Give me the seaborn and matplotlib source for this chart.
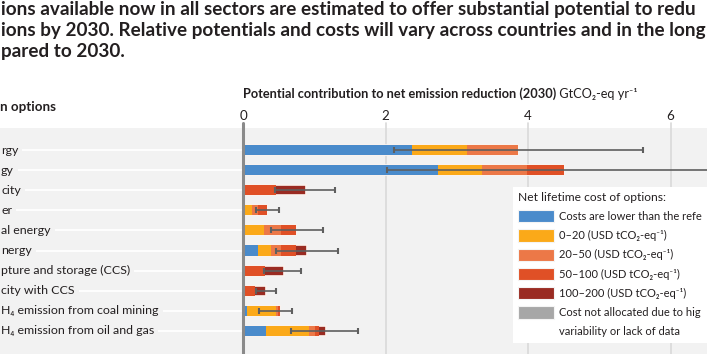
import numpy as np
import pandas as pd
import matplotlib
import matplotlib.pyplot as plt
import seaborn as sns
from matplotlib.patches import Patch

matplotlib.use('Agg')

# Data (GtCO2-eq/yr, 2030)
options = ['Wind energy', 'Solar energy', 'Bioelectricity', 'Hydropower',
           'Geothermal energy', 'Nuclear energy',
           'Carbon capture and storage (CCS)', 'Bioelectricity with CCS',
           'Reduce CH4 emission from coal mining',
           'Reduce CH4 emission from oil and gas']
# visible part of each row label (the picture is cropped on the left)
shown_labels = ['rgy', 'gy', 'city', 'er', 'al energy', 'nergy',
                'pture and storage (CCS)', 'city with CCS',
                'H\u2084 emission from coal mining',
                'H\u2084 emission from oil and gas']
cost_lower = [2.37, 2.74, 0, 0, 0, 0.21, 0, 0, 0.05, 0.32]
cost_0_20 = [0.77, 0.61, 0, 0.13, 0.29, 0.18, 0, 0, 0.42, 0.61]
cost_20_50 = [0.72, 0.63, 0, 0.08, 0.25, 0.15, 0, 0, 0.02, 0.08]
cost_50_100 = [0, 0.53, 0.47, 0.12, 0.21, 0.20, 0.31, 0.17, 0.03, 0.06]
cost_100_200 = [0, 0, 0.41, 0, 0, 0.16, 0.26, 0.15, 0, 0.10]
range_low = [2.12, 2.02, 0.45, 0.18, 0.39, 0.46, 0.29, 0.18, 0.23, 0.68]
range_high = [5.61, 7.0, 1.29, 0.50, 1.12, 1.34, 0.82, 0.46, 0.69, 1.62]

# legend text as far as it is visible in the cropped picture
legend_labels = ['Costs are lower than the refe',
                 '0\u201320 (USD tCO\u2082-eq\u207b\u00b9)',
                 '20\u201350 (USD tCO\u2082-eq\u207b\u00b9)',
                 '50\u2013100 (USD tCO\u2082-eq\u207b\u00b9)',
                 '100\u2013200 (USD tCO\u2082-eq\u207b\u00b9)',
                 'Cost not allocated due to hig',
                 'variability or lack of data']
colors = ['#4a8bcb', '#fba919', '#ec7847', '#e05026', '#9a2b22', '#a7a7a7']

title_lines = ['ions available now in all sectors are estimated to offer substantial potential to redu',
               'ions by 2030. Relative potentials and costs will vary across countries and in the long',
               'pared to 2030.']

df = pd.DataFrame({'option': options, 'c1': cost_lower, 'c2': cost_0_20,
                   'c3': cost_20_50, 'c4': cost_50_100, 'c5': cost_100_200})
seg_cols = ['c1', 'c2', 'c3', 'c4', 'c5']
cum = df[seg_cols].cumsum(axis=1)

sns.set_style('white')
plt.rcParams['font.family'] = ['Lato', 'DejaVu Sans']
txt = '#231f20'

W, H = 707, 354
x0_px, px_per_unit = 243, 71.25

fig = plt.figure(figsize=(W / 100, H / 100), dpi=100)
renderer = fig.canvas.get_renderer()


def fit_size(s, weight, target_px):
    # font size that gives the string the width it has in the reference
    t = fig.text(0, 0, s, fontsize=10, fontweight=weight)
    w = t.get_window_extent(renderer).width
    t.remove()
    return 10 * target_px / w


fs_title = min(fit_size(s, 'bold', 702) for s in title_lines[:2])
fs_label = fit_size(shown_labels[6], 'normal', 122) * 1.06
fs_head = fit_size('Potential contribution to net emission reduction (2030)', 'bold', 314)
fs_leg = fit_size(legend_labels[0], 'normal', 701 - 558)

ax = fig.add_axes([0, 0, 1, 226 / H])
ax.set_facecolor('#f2f2f2')

# stacked bars: draw cumulative totals from the last class down
for k in range(len(seg_cols) - 1, -1, -1):
    sns.barplot(x=cum[seg_cols[k]].values, y=df['option'], orient='h',
                color=colors[k], saturation=1, width=0.5, ax=ax,
                linewidth=1.2 if k == len(seg_cols) - 1 else 0,
                edgecolor='#fbf3ee', zorder=2)

rows = np.arange(len(options))
lo = np.array(range_low)
hi = np.array(range_high)
ax.errorbar((lo + hi) / 2, rows, xerr=(hi - lo) / 2, fmt='none',
            ecolor='#5f5f5f', elinewidth=1.2, capsize=2, capthick=1.5, zorder=4)

ax.set_xlim(-x0_px / px_per_unit, (W - x0_px) / px_per_unit)
ax.set_ylim((354 - 150) / 20.1, -(150 - 128) / 20.1)

for v in [2, 4, 6]:
    ax.axvline(v, color='#d9d9d9', lw=1.2, ymax=1.02, clip_on=False, zorder=1)
ax.axvline(0, color='#8a8a8a', lw=2.2, ymax=1.02, clip_on=False, zorder=5)

ax.xaxis.tick_top()
ax.set_xticks([0, 2, 4, 6])
ax.set_xticklabels(['0', '2', '4', '6'])
ax.tick_params(axis='x', length=0, pad=4, labelsize=fs_label * 1.08, colors=txt)
ax.set_yticks([])
ax.set_xlabel('')
ax.set_ylabel('')
for s in ax.spines.values():
    s.set_visible(False)

# row labels and the white guide lines behind them
for i, lab in enumerate(shown_labels):
    t = ax.text(1 / W, i, lab, transform=ax.get_yaxis_transform(), ha='left',
                va='center', fontsize=fs_label, color=txt)
    end_px = t.get_window_extent(renderer).x1
    ax.hlines(i, (end_px + 4 - x0_px) / px_per_unit, 0, color='white',
              lw=1.3, zorder=1)

# headers
fig.text(0.5 / W, 1 - 111 / H, 'n options', fontsize=fs_head * 1.05,
         fontweight='bold', color=txt)
t1 = fig.text(x0_px / W, 1 - 98 / H,
              'Potential contribution to net emission reduction (2030)',
              fontsize=fs_head, fontweight='bold', color=txt)
fig.canvas.draw()
ax.annotate(' GtCO\u2082-eq yr\u207b\u00b9', xy=(1, 0), xycoords=t1,
            ha='left', va='bottom', fontsize=fs_head, color=txt,
            annotation_clip=False)

for line, base in zip(title_lines, [15, 36, 57]):
    fig.text(1 / W, 1 - base / H, line, fontsize=fs_title, fontweight='bold',
             color=txt, va='baseline')

fs_px = fs_leg * 100 / 72
handles = [Patch(facecolor=c, edgecolor='#f4f4f4', linewidth=0.8) for c in colors]
handles.append(Patch(facecolor='none', edgecolor='none'))  # second text line
leg = fig.legend(handles, legend_labels, title='Net lifetime cost of options:',
                 loc='upper left', bbox_to_anchor=(513 / W, 1 - 187 / H),
                 frameon=True, fancybox=False, facecolor='white',
                 edgecolor='none', framealpha=1, fontsize=fs_leg,
                 title_fontsize=fs_leg * 1.08, handlelength=36 / fs_px,
                 handleheight=14.5 / fs_px, labelspacing=7.1 / fs_px,
                 handletextpad=5 / fs_px, borderpad=0.45, alignment='left',
                 borderaxespad=0)
for t in leg.get_texts():
    t.set_color(txt)
leg.get_title().set_color(txt)

fig.savefig('out.png', dpi=100)
